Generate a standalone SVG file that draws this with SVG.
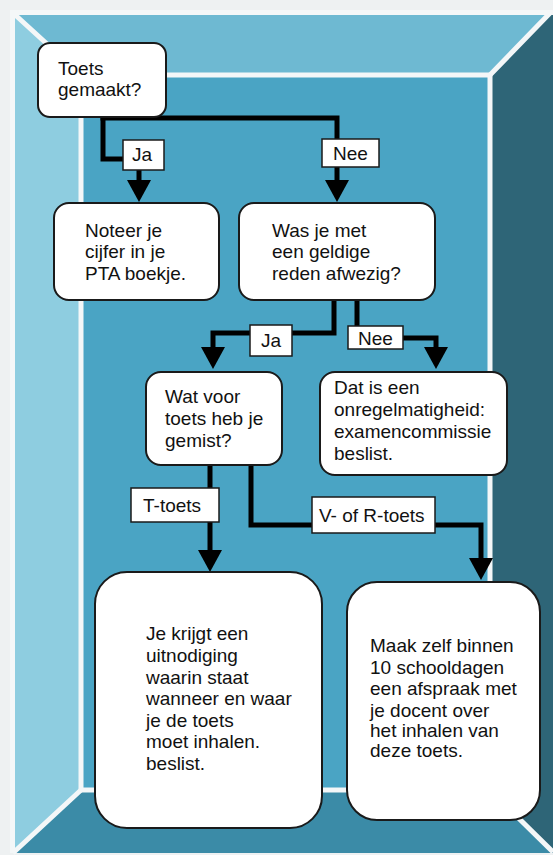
<svg xmlns="http://www.w3.org/2000/svg" width="553" height="855" viewBox="0 0 553 855">
<style>
.node rect{fill:#ffffff;stroke:#1a1a1a;stroke-width:2}
.lbl rect{fill:#ffffff;stroke:#1a1a1a;stroke-width:1.5}
text{font-family:"Liberation Sans",Arial,sans-serif;font-size:19px;fill:#111111}
.conn path{fill:none;stroke:#000000;stroke-width:5;stroke-linejoin:miter}
.wl{fill:none;stroke:#f4f7f8;stroke-width:5}
</style>
<defs>
<marker id="ah" viewBox="0 0 22 24" refX="0" refY="12" markerWidth="22" markerHeight="24" markerUnits="userSpaceOnUse" orient="auto">
<path d="M0,0 L22,12 L0,24 z" fill="#000000"/>
</marker>
</defs>
<g id="background">
<rect x="0" y="0" width="553" height="855" fill="#eef1f2"/>
<polygon points="12,12 553,12 490,75 81,75" fill="#6eb9d2"/>
<polygon points="12,12 81,75 81,790 12,853" fill="#8ecde0"/>
<polygon points="553,12 553,853 490,790 490,75" fill="#2e6577"/>
<polygon points="12,853 81,790 490,790 553,853" fill="#3b8ba7"/>
<rect x="81" y="75" width="409" height="715" fill="#4aa4c4"/>
<rect x="81" y="75" width="409" height="715" class="wl"/>
<path class="wl" d="M12.5,853 V12.5 H553"/>
<path class="wl" d="M12,12 L81,75 M551,12 L490,75 M81,790 L13,853 M490,790 L553,852"/>
</g>
<g id="connectors" class="conn">
<path d="M103,116 V159 H139 V180" marker-end="url(#ah)"/>
<path d="M100.5,118 H337 V180" marker-end="url(#ah)"/>
<path d="M334,300 V333 H213 V347" marker-end="url(#ah)"/>
<path d="M357,300 V338 H436 V347" marker-end="url(#ah)"/>
<path d="M210,465 V550" marker-end="url(#ah)"/>
<path d="M251,465 V525 H481 V558" marker-end="url(#ah)"/>
</g>
<g id="labels">
<g id="lbl-ja1" class="lbl"><rect x="123" y="140" width="41" height="30"/><text x="132" y="161">Ja</text></g>
<g id="lbl-nee1" class="lbl"><rect x="322" y="139" width="57" height="28"/><text x="333" y="160">Nee</text></g>
<g id="lbl-ja2" class="lbl"><rect x="250" y="325" width="42" height="31"/><text x="261" y="347">Ja</text></g>
<g id="lbl-nee2" class="lbl"><rect x="348" y="326" width="55" height="23"/><text x="358" y="345">Nee</text></g>
<g id="lbl-t" class="lbl"><rect x="131" y="488" width="88" height="34"/><text x="143" y="512">T-toets</text></g>
<g id="lbl-vr" class="lbl"><rect x="312" y="497" width="123" height="36"/><text x="319" y="522">V- of R-toets</text></g>
</g>
<g id="n-toets" class="node">
<rect x="38" y="43" width="128" height="74" rx="12"/>
<text x="58" y="75">Toets</text>
<text x="58" y="96">gemaakt?</text>
</g>
<g id="n-noteer" class="node">
<rect x="54" y="203" width="165" height="97" rx="15"/>
<text x="85" y="237">Noteer je</text>
<text x="85" y="258">cijfer in je</text>
<text x="85" y="280">PTA boekje.</text>
</g>
<g id="n-wasje" class="node">
<rect x="239" y="203" width="196" height="97" rx="15"/>
<text x="272" y="237">Was je met</text>
<text x="272" y="258">een geldige</text>
<text x="272" y="280">reden afwezig?</text>
</g>
<g id="n-watvoor" class="node">
<rect x="146" y="372" width="136" height="93" rx="15"/>
<text x="165" y="403">Wat voor</text>
<text x="165" y="425">toets heb je</text>
<text x="165" y="447">gemist?</text>
</g>
<g id="n-datis" class="node">
<rect x="320" y="372" width="187" height="103" rx="15"/>
<text x="334" y="394">Dat is een</text>
<text x="334" y="416">onregelmatigheid:</text>
<text x="334" y="438">examencommissie</text>
<text x="334" y="460">beslist.</text>
</g>
<g id="n-jekrijgt" class="node">
<rect x="95" y="572" width="227" height="256" rx="32"/>
<text x="146" y="640">Je krijgt een</text>
<text x="146" y="662">uitnodiging</text>
<text x="146" y="684">waarin staat</text>
<text x="146" y="705">wanneer en waar</text>
<text x="146" y="727">je de toets</text>
<text x="146" y="748">moet inhalen.</text>
<text x="146" y="770">beslist.</text>
</g>
<g id="n-maak" class="node">
<rect x="347" y="582" width="193" height="238" rx="30"/>
<text x="370" y="652">Maak zelf binnen</text>
<text x="370" y="674">10 schooldagen</text>
<text x="370" y="695">een afspraak met</text>
<text x="370" y="717">je docent over</text>
<text x="370" y="737">het inhalen van</text>
<text x="370" y="757">deze toets.</text>
</g>
</svg>
